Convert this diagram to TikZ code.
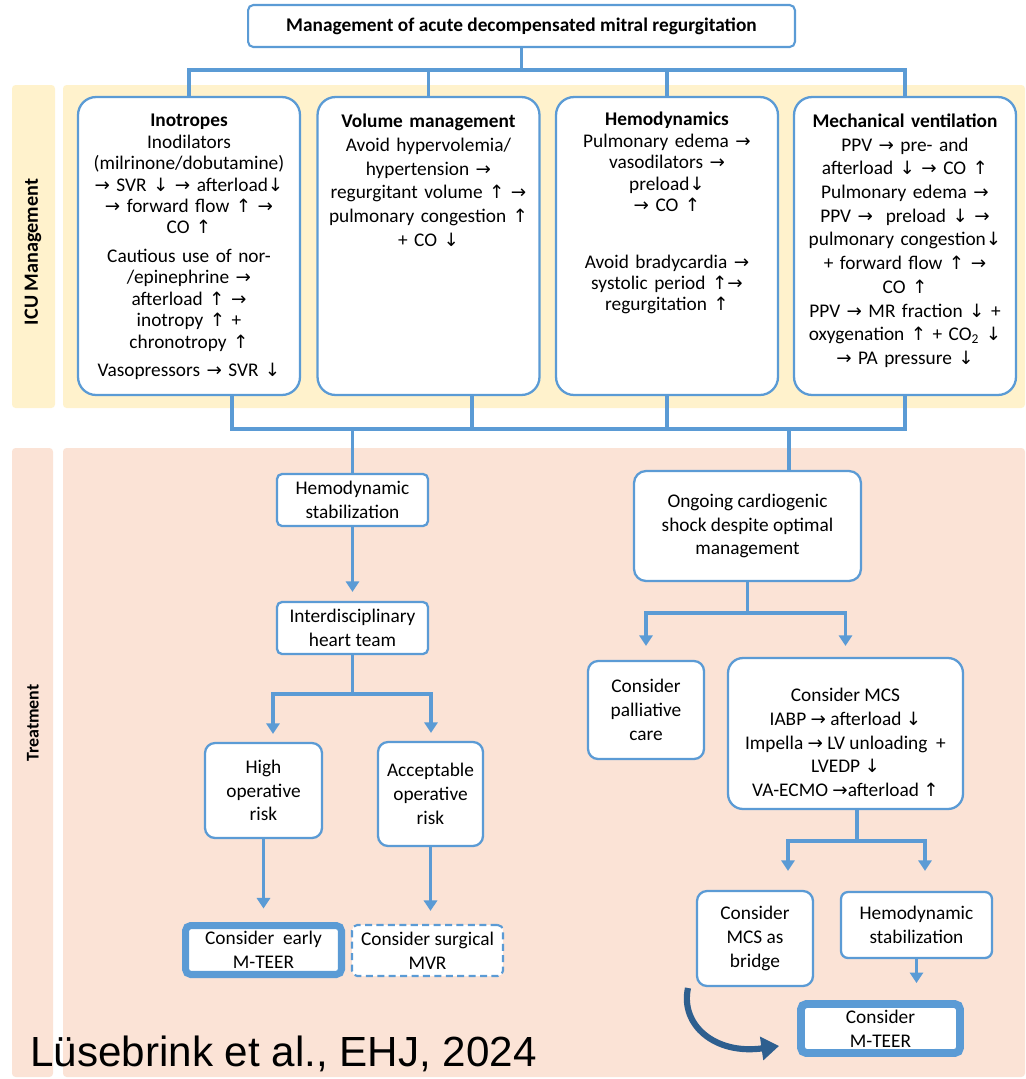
\documentclass[tikz,border=0pt]{standalone}
\usepackage{fontspec}
\setmainfont{Carlito}
\newfontfamily\arwfont{DejaVu Sans}[Scale=0.95]
\newfontfamily\citefont{Liberation Sans}
\usetikzlibrary{arrows.meta,positioning}
\definecolor{boxblue}{HTML}{5B9BD5}
\definecolor{icuyellow}{HTML}{FFF2CC}
\definecolor{trtpink}{HTML}{FBE3D6}
\definecolor{bendblue}{HTML}{2E5F8F}
\newcommand\arR{{\arwfont →}}
\newcommand\arU{{\arwfont ↑}}
\newcommand\arD{{\arwfont ↓}}

\begin{document}
\begin{tikzpicture}[
        x=0.02cm, y=-0.02cm,
        every node/.style={font=\fontsize{11}{13.5}\selectfont, align=center, inner sep=1pt},
        titlebox/.style={draw=boxblue, line width=1.2pt, fill=white, rounded corners=3pt,
            minimum width=10.94cm, minimum height=0.84cm, font=\fontsize{11}{13.5}\selectfont\bfseries},
        icubox/.style={draw=boxblue, line width=1.3pt, fill=white, rounded corners=0.36cm,
            minimum width=4.44cm, minimum height=5.96cm},
        icutext/.style={inner sep=0pt, text width=4.3cm},
        tbox/.style={draw=boxblue, line width=1.3pt, fill=white, rounded corners=#1},
        tbox/.default=0.2cm,
        teerbox/.style={draw=boxblue, line width=4pt, fill=white, rounded corners=3pt},
        mvrbox/.style={draw=boxblue, line width=1.2pt, dash pattern=on 4pt off 2.5pt, fill=white, rounded corners=3pt},
        link/.style={draw=boxblue, line width=1.8pt},
        arr/.style={link, -{Triangle[width=7.5pt,length=6pt]}, shorten >=#1},
        arr/.default=0.18cm,
        sidelabel/.style={rotate=90, font=\fontsize{11.5}{13}\selectfont\bfseries}
    ]

    \useasboundingbox (0,0) rectangle (1025,1079);

    \fill[icuyellow, rounded corners=2pt] (12,85) rectangle (55,408);
    \fill[icuyellow, rounded corners=2pt] (63,85) rectangle (1025,408);
    \fill[trtpink, rounded corners=2pt] (12,448) rectangle (53,1077);
    \fill[trtpink, rounded corners=2pt] (63,448) rectangle (1025,1077);

    \node[sidelabel] (icu) at (33,252) {ICU Management};
    \node[sidelabel, font=\fontsize{10.2}{11}\selectfont\bfseries] (trt) at (33,723) {Treatment};

    \node[titlebox] (title) at (521.5,26) {Management of acute decompensated mitral regurgitation};

    \node[icubox] (ino) at (189,246) {};
    \node[icubox] (vol) at (428.5,246) {};
    \node[icubox] (hem) at (667,246) {};
    \node[icubox] (vent) at (905,246) {};

    \node[icutext, below=0.36cm of ino.north, font=\fontsize{11}{12.2}\selectfont] (inotxt) {
        \textbf{Inotropes}\\
        Inodilators\\
        (milrinone/dobutamine)\\
        \arR{} SVR \arD{} \arR{} afterload\arD\\
        \arR{} forward flow \arU{} \arR\\
        CO \arU\\[4pt]
        Cautious use of nor-\\
        /epinephrine \arR\\
        afterload \arU{} \arR\\
        inotropy \arU{} +\\
        chronotropy \arU\\[4pt]
        Vasopressors \arR{} SVR \arD};
    \node[icutext, below=0.35cm of vol.north, font=\fontsize{11}{13.6}\selectfont] (voltxt) {
        \textbf{Volume management}\\
        Avoid hypervolemia/\\
        hypertension \arR\\
        regurgitant volume \arU{} \arR\\
        pulmonary congestion \arU\\
        + CO \arD};
    \node[icutext, below=0.32cm of hem.north, font=\fontsize{11}{12.2}\selectfont] (hemtxt) {
        \textbf{Hemodynamics}\\
        Pulmonary edema \arR\\
        vasodilators \arR\\
        preload\arD\\
        \arR{} CO \arU\\[20pt]
        Avoid bradycardia \arR\\
        systolic period \arU\arR\\
        regurgitation \arU};
    \node[icutext, below=0.35cm of vent.north, font=\fontsize{11}{13.5}\selectfont] (venttxt) {
        \textbf{Mechanical ventilation}\\
        PPV \arR{} pre- and\\
        afterload \arD{} \arR{} CO \arU\\
        Pulmonary edema \arR\\
        PPV \arR{} ~preload \arD{} \arR\\
        pulmonary congestion\arD\\
        + forward flow \arU{} \arR\\
        CO \arU\\
        PPV \arR{} MR fraction \arD{} +\\
        oxygenation \arU{} + CO\textsubscript{2} \arD\\
        \arR{} PA pressure \arD};

    \coordinate (topbus) at (521.5,70);
    \draw[link] (title.south) -- (topbus);
    \draw[link] (ino.north) |- (topbus) -| (vent.north);
    \draw[link] (vol.north) -- (vol.north |- topbus);
    \draw[link] (hem.north) -- (hem.north |- topbus);

    \node[tbox=0.1cm, minimum width=3.02cm, minimum height=1.04cm] (hs1) at (352.5,500) {Hemodynamic\\stabilization};
    \node[tbox=0.1cm, minimum width=3.02cm, minimum height=1.04cm] (idt) at (352.5,628) {Interdisciplinary\\heart team};
    \node[tbox, minimum width=2.34cm, minimum height=1.9cm] (high) at (263.5,790.5) {High\\operative\\risk};
    \node[tbox, minimum width=2.1cm, minimum height=2.08cm] (acc) at (430.5,794) {Acceptable\\operative\\risk};
    \node[teerbox, minimum width=3.12cm, minimum height=0.98cm] (early) at (263.5,950) {Consider~ early\\M-TEER};
    \node[mvrbox, minimum width=3.02cm, minimum height=1.02cm] (mvr) at (427.5,950.5) {Consider surgical\\MVR};

    \node[tbox=0.24cm, minimum width=4.54cm, minimum height=2.2cm] (shock) at (747.5,526) {Ongoing cardiogenic\\shock despite optimal\\management};
    \node[tbox, minimum width=2.32cm, minimum height=1.96cm] (pall) at (646,710) {Consider\\palliative\\care};
    \node[tbox=0.3cm, minimum width=4.7cm, minimum height=3.02cm] (mcs) at (845.5,733.5) {};
    \node[below=0.62cm of mcs.north, inner sep=0pt] (mcstxt) {Consider MCS\\IABP \arR{} afterload \arD\\Impella \arR{} LV unloading~ +\\LVEDP \arD\\VA-ECMO \arR afterload \arU};
    \node[tbox, minimum width=2.32cm, minimum height=1.9cm] (bridge) at (755,938.5) {Consider\\MCS as\\bridge};
    \node[tbox=0.14cm, minimum width=3.02cm, minimum height=1.32cm] (hs2) at (916.5,925) {Hemodynamic\\stabilization};
    \node[teerbox, line width=4.5pt, minimum width=3.18cm, minimum height=0.98cm] (teer) at (880.5,1028.5) {Consider\\M-TEER};

    \coordinate (busl) at (232,429);
    \coordinate (busv) at (472,429);
    \coordinate (busc) at (789,429);
    \draw[link] (busl |- ino.south) -- (busl) -| (vent.south);
    \draw[link] (busv |- vol.south) -- (busv);
    \draw[link] (hem.south) -- (hem.south |- busl);
    \draw[link] (hs1.north |- busl) -- (hs1.north);
    \draw[link] (busc) -- (busc |- shock.north);

    \coordinate (splitl) at (273,694);
    \coordinate (splitr) at (431,694);
    \draw[arr] (hs1) -- (idt);
    \draw[arr=0.16cm] (idt.south) |- (splitl) -- (splitl |- high.north);
    \draw[arr=0.16cm] (idt.south) |- (splitr) -- (splitr |- acc.north);
    \draw[arr=0.27cm] (high) -- (early);
    \draw[arr=0.26cm] (acc.south) -- (acc.south |- mvr.north);

    \coordinate (splitc) at (747.5,613);
    \draw[arr=0.28cm] (shock.south) -- (splitc) -| (pall.north);
    \draw[arr=0.22cm] (splitc) -| (mcs.north);
    \coordinate (mcsbus) at (857,841);
    \coordinate (bridgebus) at (788,841);
    \coordinate (hsbus) at (925,841);
    \draw[link] (mcsbus |- mcs.south) -- (mcsbus);
    \draw[arr=0.38cm] (mcsbus) -- (bridgebus) -- (bridgebus |- bridge.north);
    \draw[arr=0.4cm] (mcsbus) -- (hsbus) -- (hsbus |- hs2.north);
    \draw[arr=0.34cm] (hs2.south) -- (hs2.south |- teer.north);

    \coordinate (bendstart) at (688,988);
    \coordinate (bendend) at (779,1046);
    \draw[bendblue, line width=3.5pt, -{Triangle[width=13pt,length=10pt]}] (bendstart) .. controls (680,1025) and (715,1055) .. (bendend);

    \node[anchor=base west, inner sep=0pt, font=\fontsize{24}{28}\selectfont\citefont] (cite) at (30,1066) {Lüsebrink et al., EHJ, 2024};

\end{tikzpicture}
\end{document}
